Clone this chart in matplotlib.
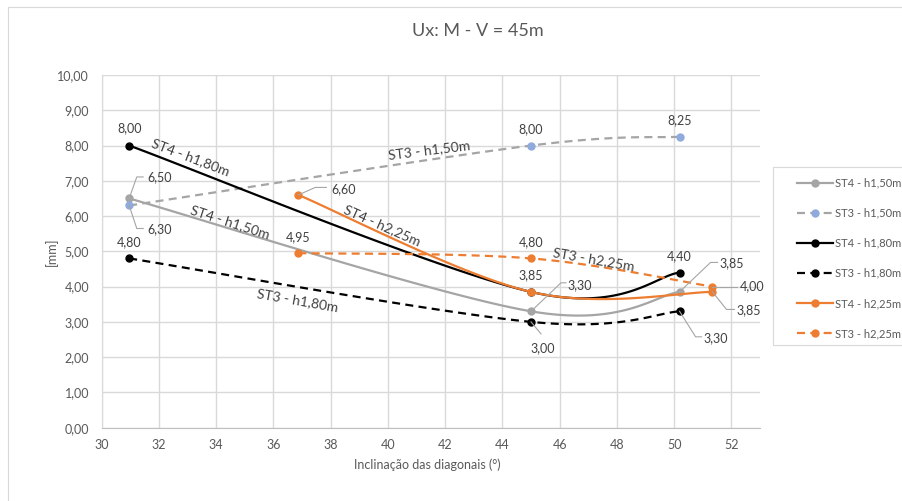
import numpy as np
import matplotlib
matplotlib.use("Agg")
import matplotlib.pyplot as plt
from matplotlib.patches import Rectangle
from matplotlib.lines import Line2D
from matplotlib.ticker import FuncFormatter

plt.rcParams['font.family'] = ['Lato', 'DejaVu Sans']

# ---- data -------------------------------------------------------------
# diagonal inclination (degrees) for the two groups of models
incl_h150_h180 = [30.96, 45.0, 50.19]
incl_h225 = [36.87, 45.0, 51.34]

st4_h150 = [6.50, 3.30, 3.85]
st3_h150 = [6.30, 8.00, 8.25]
st4_h180 = [8.00, 3.85, 4.40]
st3_h180 = [4.80, 3.00, 3.30]
st4_h225 = [6.60, 3.85, 3.85]
st3_h225 = [4.95, 4.80, 4.00]

series_names = ["ST4 - h1,50m", "ST3 - h1,50m", "ST4 - h1,80m",
                "ST3 - h1,80m", "ST4 - h2,25m", "ST3 - h2,25m"]

x_ticks = list(range(30, 53, 2))
y_ticks = list(range(0, 11))

title = "Ux: M - V = 45m"
x_title = "Inclinação das diagonais (°)"
y_title = "[mm]"

# ---- styles -----------------------------------------------------------
GRAY = "#a5a5a5"
BLUE = "#8faadc"
ORANGE = "#ed7d31"
BLACK = "#000000"
TXT = "#404040"
AX_TXT = "#595959"
GRID = "#d9d9d9"
DASH = (0, (3.6, 2.4))

series = [
    dict(x=incl_h150_h180, y=st4_h150, color=GRAY, mcolor=GRAY, ls="-"),
    dict(x=incl_h150_h180, y=st3_h150, color=GRAY, mcolor=BLUE, ls=DASH),
    dict(x=incl_h150_h180, y=st4_h180, color=BLACK, mcolor=BLACK, ls="-"),
    dict(x=incl_h150_h180, y=st3_h180, color=BLACK, mcolor=BLACK, ls=DASH),
    dict(x=incl_h225, y=st4_h225, color=ORANGE, mcolor=ORANGE, ls="-"),
    dict(x=incl_h225, y=st3_h225, color=ORANGE, mcolor=ORANGE, ls=DASH),
]

# value-label placement in pixels relative to each point:
# (dx, dy, ha, leader polyline) ; None = no label
label_pos = [
    [(18, 21, "left", [(0, 0), (7.6, 21.5), (14, 21.5)]),
     (36, 26, "left", [(0, 0), (30, 28.5), (35, 28.5)]),
     (40, 29, "left", [(0, 0), (31, 29.5), (38, 29.5)])],
    [(18, -24, "left", [(0, 0), (7.6, -23), (14, -23)]),
     (0, 16, "center", None),
     (0, 17, "center", None)],
    [(0, 17, "center", None),
     None,
     (0, 16.5, "center", None)],
    [(0, 16, "center", None),
     (11.5, -26, "center", [(0, 0), (10, -12)]),
     (24, -27, "left", [(0, 0), (16, -25.5), (22, -25.5)])],
    [(33, 6, "left", [(0, 0), (17, 7.5), (28, 7.5)]),
     (0, 16.5, "center", None),
     (24, -18, "left", [(0, 0), (14, -17.5), (22, -17.5)])],
    [(0, 16, "center", None),
     (0, 16.6, "center", None),
     (27, 0, "left", [(0, 0), (25, 0)])],
]

# series-name labels written along the curves: (x, y, rotation)
name_pos = [
    (34.47, 5.83, -18),
    (41.43, 7.87, 7),
    (33.09, 7.67, -21),
    (36.84, 3.61, -10),
    (39.79, 5.74, -24),
    (47.18, 4.78, -10),
]


def smooth(x, y, n=60):
    """Bezier smoothing through the points (Catmull-Rom style)."""
    P = np.column_stack([x, y]).astype(float)
    out = []
    t = np.linspace(0, 1, n)[:, None]
    for i in range(len(P) - 1):
        p0 = P[i - 1] if i > 0 else P[i]
        p1, p2 = P[i], P[i + 1]
        p3 = P[i + 2] if i + 2 < len(P) else P[i + 1]
        c1 = p1 + (p2 - p0) / 6.0
        c2 = p2 - (p3 - p1) / 6.0
        seg = (1 - t) ** 3 * p1 + 3 * (1 - t) ** 2 * t * c1 \
            + 3 * (1 - t) * t ** 2 * c2 + t ** 3 * p2
        out.append(seg if i == 0 else seg[1:])
    return np.vstack(out)


def fmt(v):
    return f"{v:.2f}".replace(".", ",")


W, H = 903, 501
fig = plt.figure(figsize=(W / 100, H / 100), dpi=100)
fig.patch.set_facecolor("white")

ax = fig.add_axes([101.7 / W, 1 - 427.7 / H, (760 - 101.7) / W, (427.7 - 75) / H])
ax.set_xlim(30, 53)
ax.set_ylim(0, 10)
ax.set_xticks(x_ticks)
ax.set_yticks(y_ticks)
ax.yaxis.set_major_formatter(FuncFormatter(lambda v, p: fmt(v)))
ax.grid(True, color=GRID, lw=1.0)
ax.set_axisbelow(True)
for s in ("top", "right"):
    ax.spines[s].set_visible(False)
ax.spines["left"].set_color(GRID)
ax.spines["bottom"].set_color("#bfbfbf")
ax.tick_params(length=0, labelsize=9, labelcolor=AX_TXT)
ax.tick_params(axis="y", pad=9)
ax.tick_params(axis="x", pad=8)

ax.set_xlabel(x_title, fontsize=9, color=AX_TXT)
ax.xaxis.set_label_coords(0.494, -0.088)
ax.set_ylabel(y_title, fontsize=9, color=AX_TXT)
ax.yaxis.set_label_coords(-0.066, 0.498)

fig.text(477.5 / W, 1 - 31.5 / H, title, ha="center", va="center",
         fontsize=13, color=AX_TXT)

handles = []
for k, s in enumerate(series):
    curve = smooth(s["x"], s["y"])
    ax.plot(curve[:, 0], curve[:, 1], color=s["color"], lw=1.6,
            ls=s["ls"], zorder=3 + k, solid_capstyle="round")
    ax.plot(s["x"], s["y"], ls="none", marker="o", ms=5,
            mfc=s["mcolor"], mec=s["mcolor"], zorder=3 + k)
    handles.append(Line2D([], [], color=s["color"], lw=1.6, ls=s["ls"],
                          marker="o", ms=5, mfc=s["mcolor"], mec=s["mcolor"]))

# value labels with leader lines
fig.canvas.draw()
for k, s in enumerate(series):
    for i, (xv, yv) in enumerate(zip(s["x"], s["y"])):
        lp = label_pos[k][i]
        if lp is None:
            continue
        dx, dy, ha, leader = lp
        ax.annotate(fmt(yv), xy=(xv, yv), xytext=(dx, dy),
                    textcoords="offset pixels", ha=ha, va="center",
                    fontsize=9, color=TXT, zorder=20)
        if leader:
            px, py = ax.transData.transform((xv, yv))
            pts = np.array([(px + a, py + b) for a, b in leader])
            fig.add_artist(Line2D(pts[:, 0], pts[:, 1], transform=None,
                                  color=GRAY, lw=0.8, zorder=15))

# series names along the curves
for name, (xn, yn, rot) in zip(series_names, name_pos):
    ax.text(xn, yn, name, ha="center", va="center", rotation=rot,
            rotation_mode="anchor", fontsize=10, color=TXT, zorder=20)

# legend
fig.legend(handles, series_names, loc="upper left",
           bbox_to_anchor=(791 / W, 1 - 172 / H), frameon=False,
           borderpad=0, handlelength=3.25, handletextpad=0.25,
           labelspacing=1.72, fontsize=8, labelcolor=AX_TXT)
fig.add_artist(Rectangle((772.7 / W, 1 - 345 / H), 0.5, (345 - 166.7) / H,
                         transform=fig.transFigure, fill=False,
                         edgecolor=GRID, lw=0.8))

# chart-area border
fig.add_artist(Rectangle((8 / W, -0.2), 2, 1.2 - 7 / H,
                         transform=fig.transFigure, fill=False,
                         edgecolor=GRID, lw=0.8))

fig.savefig("out.png", dpi=100)
